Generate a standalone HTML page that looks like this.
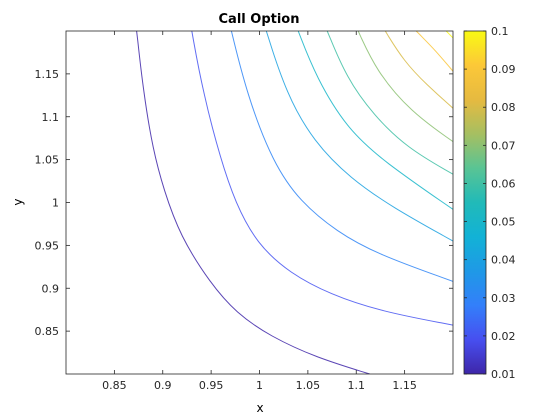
<!DOCTYPE html>
<html><head><meta charset="utf-8"><style>
body{margin:0;background:#fff;}
svg{display:block;font-family:"DejaVu Sans","Liberation Sans",sans-serif;}
</style></head><body>
<svg id="chart" width="560" height="420" viewBox="0 0 560 420">
<defs><linearGradient id="parula" x1="0" y1="1" x2="0" y2="0"></linearGradient></defs>
<rect x="0" y="0" width="560" height="420" fill="#fff"/>
<text x="259" y="23" text-anchor="middle" font-weight="bold" font-size="13">Call Option</text>
<g id="plot"></g>
<text x="260" y="412" text-anchor="middle" font-size="12">x</text>
<text x="22" y="202" text-anchor="middle" font-size="12" transform="rotate(-90 22 202)">y</text>
</svg>
<script>
const levels=[0.01,0.02,0.03,0.04,0.05,0.06,0.07,0.08,0.09,0.1];
const xTicks=[0.85,0.9,0.95,1,1.05,1.1,1.15];
const yTicks=[0.85,0.9,0.95,1,1.05,1.1,1.15];
const cTicks=[0.01,0.02,0.03,0.04,0.05,0.06,0.07,0.08,0.09,0.1];
const cx1=[0.873,0.880,0.890,0.901,0.918,0.949,0.976,1.011,1.059,1.114], cy1=[1.2,1.129,1.061,1.015,0.961,0.906,0.871,0.844,0.819,0.8];
const cx2=[0.930,0.942,0.960,0.975,0.997,1.032,1.073,1.125,1.2], cy2=[1.2,1.126,1.050,1.000,0.952,0.917,0.893,0.873,0.857];
const cx3=[0.971,0.987,1.014,1.042,1.080,1.121,1.2], cy3=[1.2,1.126,1.046,1.001,0.966,0.940,0.908];
const cx4=[1.007,1.028,1.056,1.094,1.138,1.2], cy4=[1.2,1.126,1.071,1.028,0.994,0.955];
const cx5=[1.040,1.059,1.090,1.128,1.2], cy5=[1.2,1.145,1.087,1.048,0.992];
const cx6=[1.070,1.090,1.118,1.152,1.2], cy6=[1.2,1.145,1.102,1.064,1.033];
const cx7=[1.102,1.121,1.156,1.2], cy7=[1.2,1.153,1.106,1.071];
const cx8=[1.130,1.149,1.173,1.2], cy8=[1.2,1.165,1.137,1.110];
const cx9=[1.162,1.183,1.2], cy9=[1.2,1.176,1.153];
const cx10=[1.193,1.2], cy10=[1.2,1.192];
const lineXs=[cx1,cx2,cx3,cx4,cx5,cx6,cx7,cx8,cx9,cx10];
const lineYs=[cy1,cy2,cy3,cy4,cy5,cy6,cy7,cy8,cy9,cy10];

const L=66,R=453,T=31,B=374,CL=464,CR=486;
const xMin=0.8,xMax=1.2,yMin=0.8,yMax=1.2,cMin=0.01,cMax=0.1;
const sx=v=>L+(v-xMin)/(xMax-xMin)*(R-L);
const sy=v=>B-(v-yMin)/(yMax-yMin)*(B-T);
const sc=v=>B-(v-cMin)/(cMax-cMin)*(B-T);
const stops=[[62,38,168],[71,79,240],[51,127,250],[31,153,230],[18,178,214],[33,186,184],[89,196,148],[166,191,97],[230,186,64],[252,200,56],[249,250,20]];
function parula(t){t=Math.max(0,Math.min(1,t));const n=stops.length-1,p=t*n,i=Math.min(n-1,Math.floor(p)),f=p-i;const a=stops[i],b=stops[i+1];return 'rgb('+a.map((v,k)=>Math.round(v+(b[k]-v)*f)).join(',')+')';}
const NS='http://www.w3.org/2000/svg';
const grad=document.getElementById('parula');
stops.forEach((s,i)=>{const st=document.createElementNS(NS,'stop');st.setAttribute('offset',i/(stops.length-1));st.setAttribute('stop-color','rgb('+s.join(',')+')');grad.appendChild(st);});
const g=document.getElementById('plot');
function mk(tag,attrs){const e=document.createElementNS(NS,tag);for(const k in attrs)e.setAttribute(k,attrs[k]);g.appendChild(e);return e;}
const f1=v=>v.toFixed(1);
// clamped uniform cubic B-spline (smoothing approximation through read points)
function bspline(px){
  if(px.length<3) return 'M'+px.map(p=>f1(p[0])+','+f1(p[1])).join(' L');
  const P=[px[0],px[0],...px,px[px.length-1],px[px.length-1]];
  const lerp=(a,b,t)=>[a[0]+(b[0]-a[0])*t,a[1]+(b[1]-a[1])*t];
  let d='';
  for(let i=1;i<P.length-2;i++){
    const p0=P[i-1],p1=P[i],p2=P[i+1];
    const b1=lerp(p1,p2,1/3),b2=lerp(p1,p2,2/3);
    const a2=lerp(p0,p1,2/3);
    const s=lerp(a2,b1,0.5);
    const p3=P[i+2];const c1=lerp(p2,p3,1/3);const e=lerp(b2,c1,0.5);
    if(i===1) d='M'+f1(s[0])+','+f1(s[1]);
    d+=' C'+f1(b1[0])+','+f1(b1[1])+' '+f1(b2[0])+','+f1(b2[1])+' '+f1(e[0])+','+f1(e[1]);
  }
  return d;
}
const clip=mk('clipPath',{id:'pc'});const cr=document.createElementNS(NS,'rect');cr.setAttribute('x',L);cr.setAttribute('y',T);cr.setAttribute('width',R-L);cr.setAttribute('height',B-T);clip.appendChild(cr);
levels.forEach((lv,i)=>{const pts=lineXs[i].map((x,j)=>[sx(x),sy(lineYs[i][j])]);
const p=mk('path',{d:bspline(pts),fill:'none',stroke:parula((lv-cMin)/(cMax-cMin)),'stroke-width':1,'stroke-opacity':0.85,'clip-path':'url(#pc)'});

});
const box=mk('rect',{x:L,y:T,width:R-L,height:B-T,fill:'none',stroke:'#262626','stroke-width':0.8});


xTicks.forEach(v=>{const x=sx(v);mk('line',{x1:x,x2:x,y1:B,y2:B-4,stroke:'#262626','stroke-width':0.8});mk('line',{x1:x,x2:x,y1:T,y2:T+4,stroke:'#262626','stroke-width':0.8});
const t=mk('text',{x:x,y:B+15,'text-anchor':'middle','font-size':11,fill:'#262626'});t.textContent=v;

});
yTicks.forEach(v=>{const y=sy(v);mk('line',{x1:L,x2:L+4,y1:y,y2:y,stroke:'#262626','stroke-width':0.8});mk('line',{x1:R,x2:R-4,y1:y,y2:y,stroke:'#262626','stroke-width':0.8});
const t=mk('text',{x:L-7,y:y+4,'text-anchor':'end','font-size':11,fill:'#262626'});t.textContent=v;

});
const cb=mk('rect',{x:CL,y:T,width:CR-CL,height:B-T,fill:'url(#parula)',stroke:'#262626','stroke-width':0.8});


cTicks.forEach(v=>{const y=sc(v);mk('line',{x1:CL,x2:CL+3,y1:y,y2:y,stroke:'#262626','stroke-width':0.8});mk('line',{x1:CR,x2:CR-3,y1:y,y2:y,stroke:'#262626','stroke-width':0.8});
const t=mk('text',{x:CR+5,y:y+4,'font-size':11,fill:'#262626'});t.textContent=v;

});
</script>
</body></html>
